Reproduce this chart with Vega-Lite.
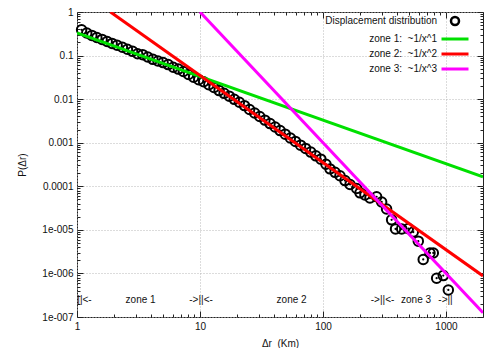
{
  "$schema": "https://vega.github.io/schema/vega-lite/v6.json",
  "width": 406,
  "height": 305,
  "autosize": {"type": "none"},
  "padding": {"left": 77, "top": 12, "right": 14, "bottom": 31},
  "config": {
    "font": "Liberation Sans",
    "view": {"stroke": "#222", "strokeWidth": 1},
    "axis": {"labelFont": "Liberation Sans", "titleFont": "Liberation Sans", "labelColor": "#111", "titleColor": "#111", "labelFontSize": 10, "titleFontSize": 10, "titleFontWeight": "normal", "domain": false, "tickColor": "#222"},
    "legend": {"title": null, "orient": "none", "legendX": 373, "legendY": 4,
      "labelFont": "Liberation Sans", "labelFontSize": 10, "labelColor": "#111",
      "labelAlign": "right", "labelOffset": -23, "rowPadding": 3, "labelLimit": 300,
      "symbolStrokeWidth": 3, "symbolSize": 100, "symbolType": "M-2.7,0H2.7"}
  },
  "datasets": {
    "obs": [
      {"x": 1.09, "y": 0.39}, {"x": 1.2, "y": 0.33}, {"x": 1.32, "y": 0.29}, {"x": 1.45, "y": 0.26},
      {"x": 1.6, "y": 0.235}, {"x": 1.76, "y": 0.21}, {"x": 1.93, "y": 0.19}, {"x": 2.12, "y": 0.172},
      {"x": 2.34, "y": 0.155}, {"x": 2.57, "y": 0.14}, {"x": 2.83, "y": 0.125}, {"x": 3.11, "y": 0.11},
      {"x": 3.42, "y": 0.105}, {"x": 3.76, "y": 0.093}, {"x": 4.14, "y": 0.082}, {"x": 4.55, "y": 0.075},
      {"x": 5.01, "y": 0.069}, {"x": 5.51, "y": 0.062}, {"x": 6.06, "y": 0.054}, {"x": 6.67, "y": 0.049},
      {"x": 7.33, "y": 0.043}, {"x": 8.07, "y": 0.037}, {"x": 8.87, "y": 0.032}, {"x": 9.76, "y": 0.028},
      {"x": 10.7, "y": 0.025}, {"x": 11.8, "y": 0.0215}, {"x": 13.0, "y": 0.0185}, {"x": 14.3, "y": 0.0157},
      {"x": 15.7, "y": 0.0136}, {"x": 17.3, "y": 0.0117}, {"x": 19.0, "y": 0.0099}, {"x": 20.9, "y": 0.0085},
      {"x": 23.0, "y": 0.0071}, {"x": 25.3, "y": 0.0058}, {"x": 27.8, "y": 0.0048}, {"x": 30.6, "y": 0.004},
      {"x": 33.7, "y": 0.0033}, {"x": 37.1, "y": 0.00275}, {"x": 40.8, "y": 0.0023}, {"x": 44.8, "y": 0.0019},
      {"x": 49.3, "y": 0.00157}, {"x": 54.3, "y": 0.00128}, {"x": 59.7, "y": 0.00107}, {"x": 65.7, "y": 0.00088},
      {"x": 72.2, "y": 0.00074}, {"x": 79.5, "y": 0.00061}, {"x": 87.4, "y": 0.0005}, {"x": 96.1, "y": 0.00042},
      {"x": 105.7, "y": 0.00032},
      {"x": 114.0, "y": 0.000251}, {"x": 125.3, "y": 0.000209}, {"x": 137.4, "y": 0.000174}, {"x": 151.0, "y": 0.000135},
      {"x": 166.0, "y": 0.00011}, {"x": 187.9, "y": 0.0000891}, {"x": 200.0, "y": 0.0000708}, {"x": 219.3, "y": 0.0000631},
      {"x": 241.0, "y": 0.0000537}, {"x": 272.9, "y": 0.0000575}, {"x": 299.9, "y": 0.0000437}, {"x": 328.9, "y": 0.0000302},
      {"x": 361.4, "y": 0.000017}, {"x": 389.0, "y": 0.0000105}, {"x": 436.5, "y": 0.0000105}, {"x": 494.3, "y": 0.0000107},
      {"x": 542.0, "y": 0.00000891}, {"x": 595.7, "y": 0.0000055}, {"x": 653.1, "y": 0.00000209}, {"x": 741.3, "y": 0.00000295},
      {"x": 788.9, "y": 0.00000295}, {"x": 839.5, "y": 0.000000776}, {"x": 950.6, "y": 0.000000891}, {"x": 1045, "y": 0.000000417}
    ],
    "fits": [
      {"zone": "zone 1: \u00a0~1/x^1", "x": 1, "y": 0.33},
      {"zone": "zone 1: \u00a0~1/x^1", "x": 2000, "y": 0.000165},
      {"zone": "zone 2: \u00a0~1/x^2", "x": 1.87, "y": 1},
      {"zone": "zone 2: \u00a0~1/x^2", "x": 2000, "y": 0.000000875},
      {"zone": "zone 3: \u00a0~1/x^3", "x": 10, "y": 1},
      {"zone": "zone 3: \u00a0~1/x^3", "x": 2000, "y": 0.000000125}
    ],
    "notes": [
      {"label": "||<-", "x": 1.15, "y": 0.00000024},
      {"label": "zone 1", "x": 3.29, "y": 0.00000024},
      {"label": "->||<-", "x": 10.2, "y": 0.00000024},
      {"label": "zone 2", "x": 55.6, "y": 0.00000024},
      {"label": "->||<-", "x": 305, "y": 0.00000024},
      {"label": "zone 3", "x": 571, "y": 0.00000024},
      {"label": "->||", "x": 991, "y": 0.00000024}
    ]
  },
  "resolve": {"axis": {"x": "independent", "y": "independent"}},
  "layer": [
    {
      "data": {"name": "obs"},
      "mark": {"type": "point", "shape": "circle", "filled": false, "strokeWidth": 2, "size": 90, "opacity": 1},
      "encoding": {
        "x": {"field": "x", "type": "quantitative",
          "scale": {"type": "log", "domain": [1, 2000], "nice": false},
          "axis": {"orient": "bottom", "title": "Δr \u00a0(Km)", "titlePadding": 4,
            "values": [1,2,3,4,5,6,7,8,9,10,20,30,40,50,60,70,80,90,100,200,300,400,500,600,700,800,900,1000,2000],
            "labelExpr": "abs(log(datum.value)/LN10 - round(log(datum.value)/LN10)) < 0.001 ? toString(datum.value) : ''",
            "tickSize": {"condition": {"test": "abs(log(datum.value)/LN10 - round(log(datum.value)/LN10)) < 0.001", "value": -6}, "value": -3},
            "labelPadding": 10, "labelFlush": false, "labelOverlap": false,
            "grid": true, "gridColor": "#b8b8b8", "gridDash": [1, 2], "gridWidth": 1,
            "gridOpacity": {"condition": {"test": "abs(log(datum.value)/LN10 - round(log(datum.value)/LN10)) < 0.001", "value": 1}, "value": 0}}},
        "y": {"field": "y", "type": "quantitative",
          "scale": {"type": "log", "domain": [0.0000001, 1], "nice": false},
          "axis": {"orient": "left", "title": "P(Δr)", "titlePadding": 14,
            "values": [0.0000001,0.0000002,0.0000003,0.0000004,0.0000005,0.0000006,0.0000007,0.0000008,0.0000009,
                       0.000001,0.000002,0.000003,0.000004,0.000005,0.000006,0.000007,0.000008,0.000009,
                       0.00001,0.00002,0.00003,0.00004,0.00005,0.00006,0.00007,0.00008,0.00009,
                       0.0001,0.0002,0.0003,0.0004,0.0005,0.0006,0.0007,0.0008,0.0009,
                       0.001,0.002,0.003,0.004,0.005,0.006,0.007,0.008,0.009,
                       0.01,0.02,0.03,0.04,0.05,0.06,0.07,0.08,0.09,
                       0.1,0.2,0.3,0.4,0.5,0.6,0.7,0.8,0.9,1],
            "labelExpr": "abs(log(datum.value)/LN10 - round(log(datum.value)/LN10)) < 0.001 ? (datum.value >= 0.0001 ? toString(datum.value) : '1e-00' + toString(round(-log(datum.value)/LN10))) : ''",
            "tickSize": {"condition": {"test": "abs(log(datum.value)/LN10 - round(log(datum.value)/LN10)) < 0.001", "value": -6}, "value": -3},
            "labelPadding": 10, "labelFlush": false, "labelOverlap": false,
            "grid": true, "gridColor": "#b8b8b8", "gridDash": [1, 2], "gridWidth": 1,
            "gridOpacity": {"condition": {"test": "abs(log(datum.value)/LN10 - round(log(datum.value)/LN10)) < 0.001", "value": 1}, "value": 0}}},
        "color": {"datum": "Displacement distribution", "type": "nominal",
          "scale": {"domain": ["Displacement distribution", "zone 1: \u00a0~1/x^1", "zone 2: \u00a0~1/x^2", "zone 3: \u00a0~1/x^3"],
                    "range": ["#000000", "#00e000", "#ff0000", "#ff00ff"]},
          "legend": {"title": null,
            "encode": {"symbols": {"update": {
              "shape": {"signal": "datum.value === 'Displacement distribution' ? 'circle' : 'M-2.7,0H2.7'"},
              "size": {"signal": "datum.value === 'Displacement distribution' ? 64 : 100"},
              "strokeWidth": {"signal": "datum.value === 'Displacement distribution' ? 2.5 : 3"},
              "fill": {"value": "transparent"}
            }}}}}
      }
    },
    {
      "data": {"name": "obs"},
      "mark": {"type": "point", "shape": "circle", "filled": true, "size": 5, "color": "#000", "opacity": 1},
      "encoding": {
        "x": {"field": "x", "type": "quantitative", "scale": {"type": "log"}, "axis": null},
        "y": {"field": "y", "type": "quantitative", "scale": {"type": "log"}, "axis": null}
      }
    },
    {
      "data": {"name": "fits"},
      "mark": {"type": "line", "strokeWidth": 3, "clip": true},
      "encoding": {
        "x": {"field": "x", "type": "quantitative", "scale": {"type": "log"},
          "axis": {"orient": "top", "title": null, "labels": false, "grid": false,
            "values": [1,2,3,4,5,6,7,8,9,10,20,30,40,50,60,70,80,90,100,200,300,400,500,600,700,800,900,1000,2000],
            "tickSize": {"condition": {"test": "abs(log(datum.value)/LN10 - round(log(datum.value)/LN10)) < 0.001", "value": -6}, "value": -3}}},
        "y": {"field": "y", "type": "quantitative", "scale": {"type": "log"},
          "axis": {"orient": "right", "title": null, "labels": false, "grid": false,
            "values": [0.0000001,0.0000002,0.0000003,0.0000004,0.0000005,0.0000006,0.0000007,0.0000008,0.0000009,
                       0.000001,0.000002,0.000003,0.000004,0.000005,0.000006,0.000007,0.000008,0.000009,
                       0.00001,0.00002,0.00003,0.00004,0.00005,0.00006,0.00007,0.00008,0.00009,
                       0.0001,0.0002,0.0003,0.0004,0.0005,0.0006,0.0007,0.0008,0.0009,
                       0.001,0.002,0.003,0.004,0.005,0.006,0.007,0.008,0.009,
                       0.01,0.02,0.03,0.04,0.05,0.06,0.07,0.08,0.09,
                       0.1,0.2,0.3,0.4,0.5,0.6,0.7,0.8,0.9,1],
            "tickSize": {"condition": {"test": "abs(log(datum.value)/LN10 - round(log(datum.value)/LN10)) < 0.001", "value": -6}, "value": -3}}},
        "color": {"field": "zone", "type": "nominal",
          "legend": {"title": null,
            "encode": {"symbols": {"update": {
              "shape": {"signal": "datum.value === 'Displacement distribution' ? 'circle' : 'M-2.7,0H2.7'"},
              "size": {"signal": "datum.value === 'Displacement distribution' ? 64 : 100"},
              "strokeWidth": {"signal": "datum.value === 'Displacement distribution' ? 2.5 : 3"},
              "fill": {"value": "transparent"}
            }}}}}
      }
    },
    {
      "data": {"name": "notes"},
      "mark": {"type": "text", "fontSize": 10, "font": "Liberation Sans", "color": "#111", "align": "center", "baseline": "middle"},
      "encoding": {
        "x": {"field": "x", "type": "quantitative", "scale": {"type": "log"}, "axis": null},
        "y": {"field": "y", "type": "quantitative", "scale": {"type": "log"}, "axis": null},
        "text": {"field": "label"}
      }
    }
  ]
}
